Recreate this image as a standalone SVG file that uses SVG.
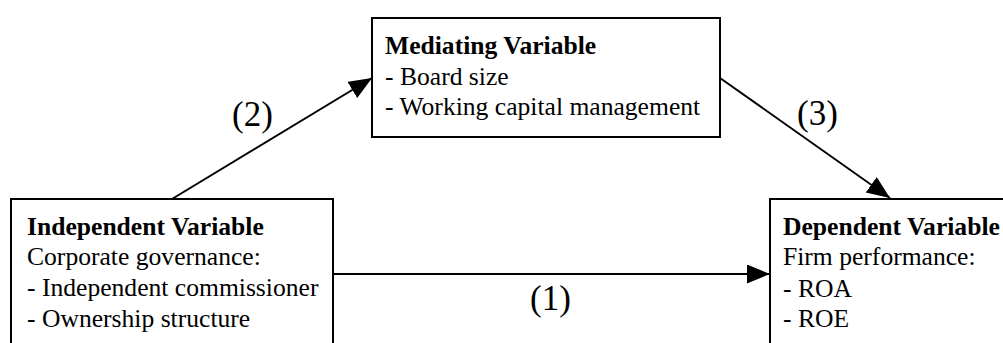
<svg xmlns="http://www.w3.org/2000/svg" width="1003" height="343" viewBox="0 0 1003 343">
<style>
.box{fill:#fff;stroke:#000;stroke-width:2}
.t{font-family:"Liberation Serif","Times New Roman","DejaVu Serif",serif;font-size:25.6px;fill:#000}
.b{font-weight:bold}
.lbl{font-family:"Liberation Serif","Times New Roman","DejaVu Serif",serif;font-size:35px;fill:#000}
.edge{stroke:#000;stroke-width:2;fill:none;marker-end:url(#ah)}
</style>
<defs>
<marker id="ah" markerUnits="userSpaceOnUse" markerWidth="24" markerHeight="20" refX="23" refY="9.5" orient="auto">
<path d="M0,0 L23,9.5 L0,19 z" fill="#000"/>
</marker>
</defs>
<rect width="1003" height="343" fill="#fff"/>
<g id="connectors">
<line class="edge" x1="333" y1="274" x2="770" y2="274"/>
<line class="edge" x1="172" y1="199" x2="372" y2="78"/>
<line class="edge" x1="720" y1="78" x2="890" y2="198"/>
</g>
<g id="labels">
<text class="lbl" x="530" y="310">(1)</text>
<text class="lbl" x="232" y="126">(2)</text>
<text class="lbl" x="797" y="125">(3)</text>
</g>
<g id="mediating">
<rect class="box" x="372" y="18" width="348" height="119"/>
<text class="t b" x="385" y="54">Mediating Variable</text>
<text class="t" x="385" y="85">- Board size</text>
<text class="t" x="385" y="115">- Working capital management</text>
</g>
<g id="independent">
<rect class="box" x="11" y="199" width="322" height="160"/>
<text class="t b" x="27" y="235">Independent Variable</text>
<text class="t" x="27" y="265">Corporate governance:</text>
<text class="t" x="27" y="296">- Independent commissioner</text>
<text class="t" x="27" y="327">- Ownership structure</text>
</g>
<g id="dependent">
<rect class="box" x="770" y="199" width="260" height="160"/>
<text class="t b" x="783" y="235">Dependent Variable</text>
<text class="t" x="783" y="265">Firm performance:</text>
<text class="t" x="783" y="297">- ROA</text>
<text class="t" x="783" y="327">- ROE</text>
</g>
</svg>
